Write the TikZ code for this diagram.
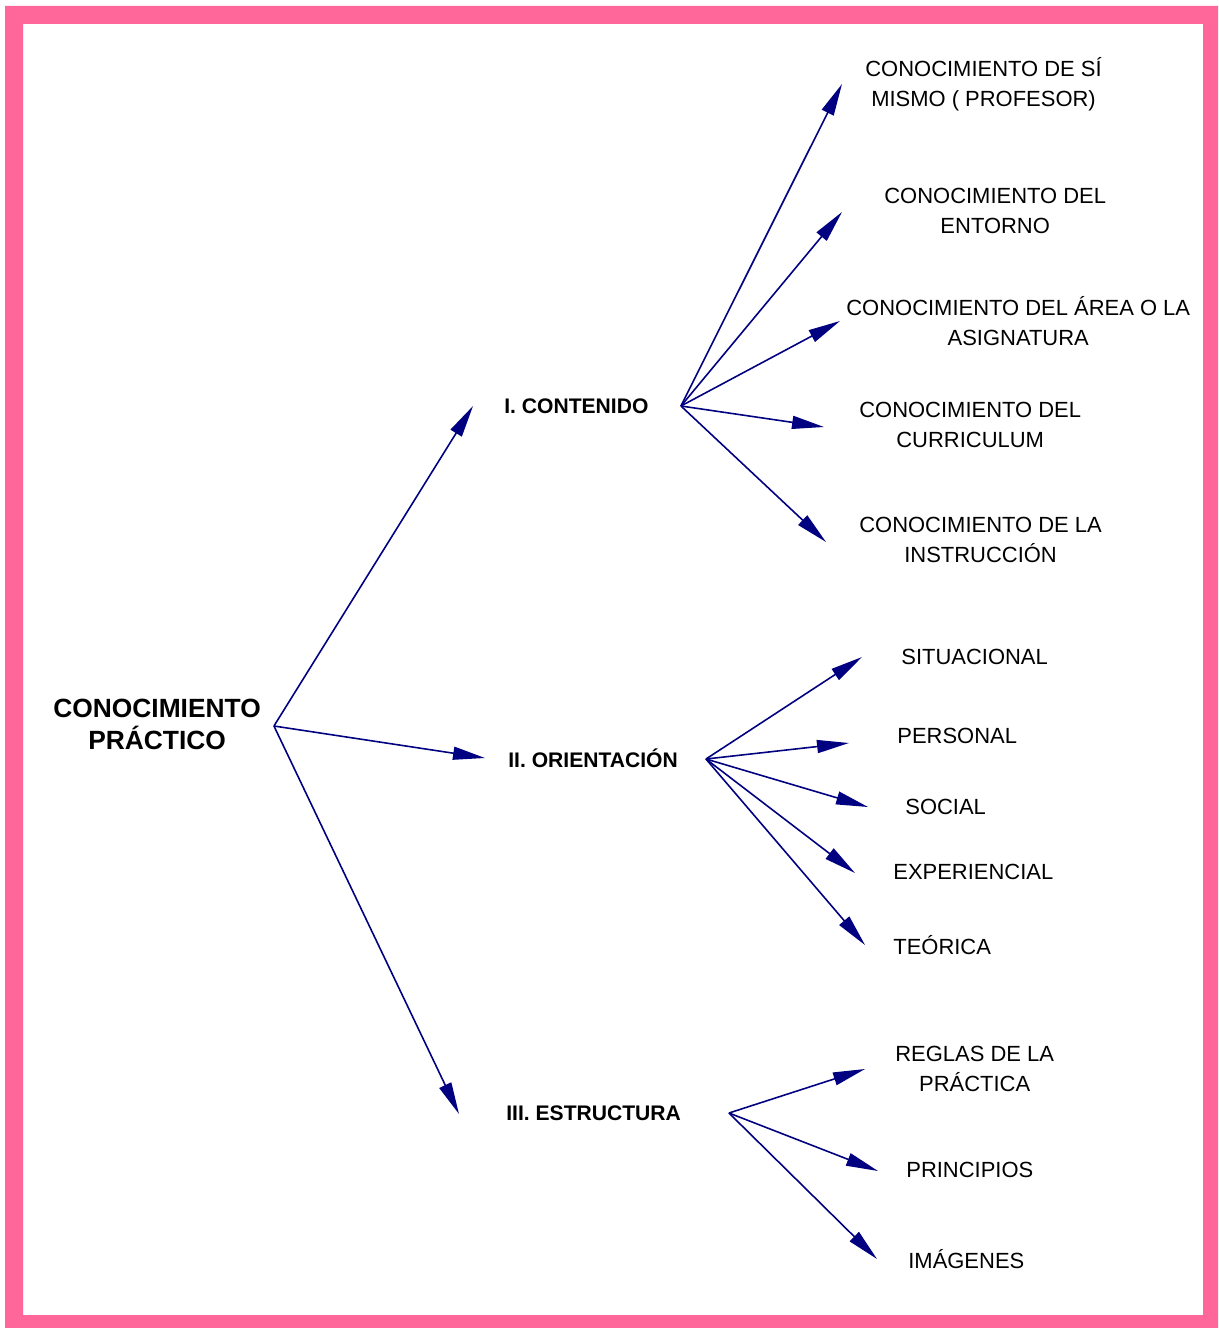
\documentclass[tikz,border=0pt]{standalone}
\usepackage{fontspec}
\setmainfont{Liberation Sans}
\usepackage{tikz}
\usetikzlibrary{arrows.meta}
\definecolor{framepink}{HTML}{FF6699}
\definecolor{navyline}{HTML}{000080}
\tikzset{
  rootnode/.style={
    font=\fontsize{15}{18.2}\selectfont\bfseries, align=center,
    anchor=west, inner sep=0pt
  },
  branchnode/.style={
    font=\fontsize{12}{14}\selectfont\bfseries, anchor=west, inner sep=0pt
  },
  leafnode/.style={
    font=\fontsize{12.5}{17}\selectfont, align=center,
    anchor=west, inner sep=0pt
  },
  navyarrow/.style={
    -{Triangle[length=0.64cm,width=0.26cm]}, line width=0.9pt, color=#1
  },
  navyarrow/.default=navyline,
}

\begin{document}
\begin{tikzpicture}[x=0.02cm,y=-0.02cm]
  \useasboundingbox (0,0) rectangle (1218,1328);
  % Frame
  \fill[framepink, even odd rule] (5,6) rectangle (1218,1328)
    (23,24) rectangle (1203,1315);

  % Root
  \node[rootnode] (root) at (53,724) {CONOCIMIENTO\\PRÁCTICO};
  \coordinate (rootHub) at ([xshift=4.42cm,yshift=-0.04cm]root.west);

  % Branches
  \node[branchnode] (cont) at (504,406) {I. CONTENIDO};
  \node[branchnode] (orient) at (508,758) {II. ORIENTACIÓN};
  \node[branchnode] (estr) at (506,1113) {III. ESTRUCTURA};
  \coordinate (contHub) at ([xshift=3.54cm]cont.west);
  \coordinate (orientHub) at ([xshift=3.96cm,yshift=-0.02cm]orient.west);
  \coordinate (estrHub) at ([xshift=4.46cm]estr.west);

  \draw[navyarrow] (rootHub) -- ([xshift=-0.62cm]cont.west);
  \draw[navyarrow] (rootHub) -- ([xshift=-0.46cm]orient.west);
  \draw[navyarrow] (rootHub) -- ([xshift=-0.94cm,yshift=-0.02cm]estr.west);

  % I. Contenido
  \node[leafnode] (sim) at (865,84) {CONOCIMIENTO DE SÍ\\MISMO ( PROFESOR)};
  \node[leafnode] (ent) at (884,211) {CONOCIMIENTO DEL\\ENTORNO};
  \node[leafnode] (area) at (846,321) {CONOCIMIENTO DEL ÁREA O LA\\ASIGNATURA};
  \node[leafnode] (curr) at (859,425) {CONOCIMIENTO DEL\\CURRICULUM};
  \node[leafnode] (instr) at (859,540) {CONOCIMIENTO DE LA\\INSTRUCCIÓN};

  \draw[navyarrow] (contHub) -- ([xshift=-0.46cm]sim.west);
  \draw[navyarrow] (contHub) -- ([xshift=-0.84cm,yshift=-0.02cm]ent.west);
  \draw[navyarrow] (contHub) -- ([xshift=-0.12cm]area.west);
  \draw[navyarrow] (contHub) -- ([xshift=-0.7cm,yshift=-0.04cm]curr.west);
  \draw[navyarrow] (contHub) -- ([xshift=-0.66cm,yshift=-0.04cm]instr.west);

  % II. Orientacion
  \node[leafnode] (sit) at (901,657) {SITUACIONAL};
  \node[leafnode] (pers) at (897,736) {PERSONAL};
  \node[leafnode] (soc) at (905,807) {SOCIAL};
  \node[leafnode] (exp) at (893,872) {EXPERIENCIAL};
  \node[leafnode] (teor) at (893,945) {TEÓRICA};

  \draw[navyarrow] (orientHub) -- ([xshift=-0.78cm]sit.west);
  \draw[navyarrow] (orientHub) -- ([xshift=-0.96cm,yshift=-0.14cm]pers.west);
  \draw[navyarrow] (orientHub) -- ([xshift=-0.74cm]soc.west);
  \draw[navyarrow] (orientHub) -- ([xshift=-0.76cm,yshift=-0.02cm]exp.west);
  \draw[navyarrow] (orientHub) -- ([xshift=-0.56cm]teor.west);

  % III. Estructura
  \node[leafnode] (reg) at (895,1069) {REGLAS DE LA\\PRÁCTICA};
  \node[leafnode] (princ) at (906,1170) {PRINCIPIOS};
  \node[leafnode] (img) at (908,1259) {IMÁGENES};

  \draw[navyarrow] (estrHub) -- ([xshift=-0.6cm]reg.west);
  \draw[navyarrow] (estrHub) -- ([xshift=-0.56cm,yshift=-0.02cm]princ.west);
  \draw[navyarrow] (estrHub) -- ([xshift=-0.62cm]img.west);
\end{tikzpicture}
\end{document}
